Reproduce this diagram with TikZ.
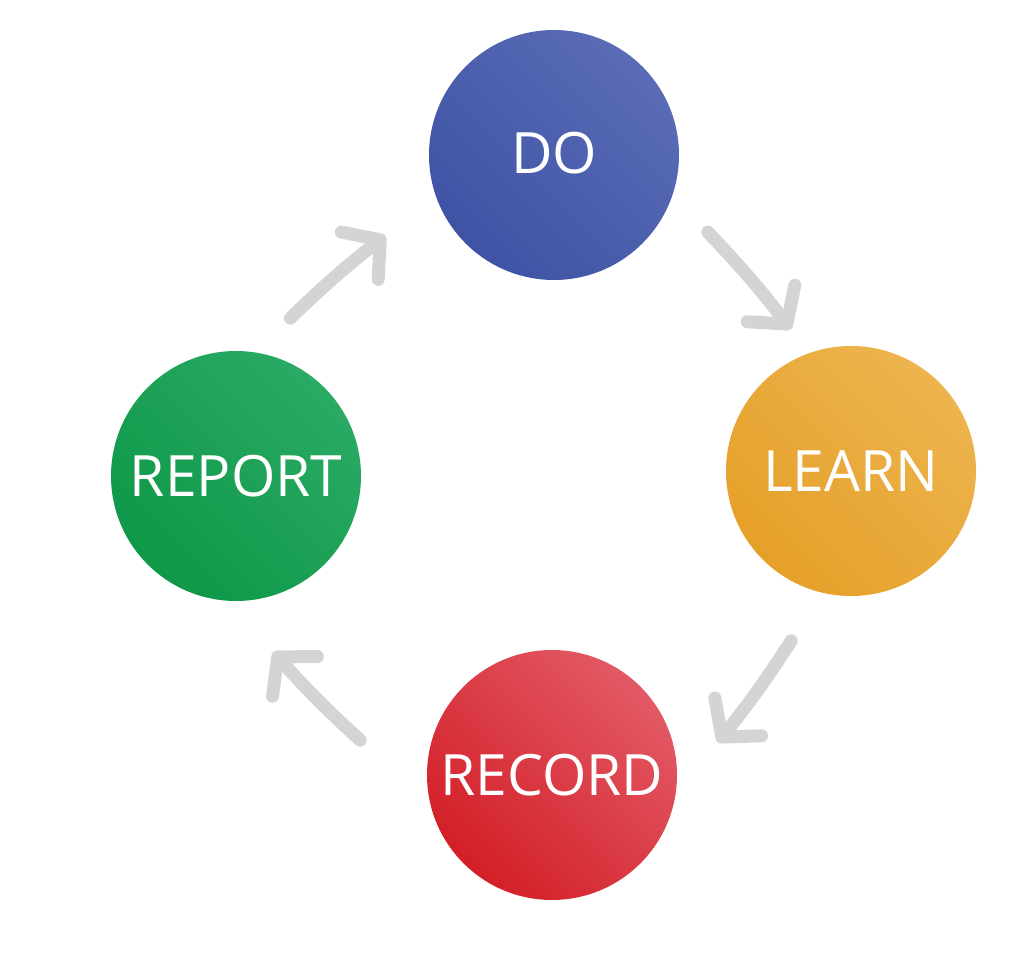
\documentclass[tikz,border=0pt]{standalone}
\usepackage{fontspec}
\setmainfont{Open Sans}
\usetikzlibrary{arrows.meta}
\definecolor{arrowgray}{HTML}{D4D4D4}
\definecolor{blueA}{HTML}{5A6CB6}
\definecolor{blueB}{HTML}{3F53A5}
\definecolor{orangeA}{HTML}{EDB44E}
\definecolor{orangeB}{HTML}{E5A028}
\definecolor{redA}{HTML}{E25965}
\definecolor{redB}{HTML}{D31F27}
\definecolor{greenA}{HTML}{2AAA64}
\definecolor{greenB}{HTML}{0E9848}
\tikzset{
  stagecircle/.style={circle, minimum size=125pt, inner sep=0pt, text=white,
    font=\fontsize{28.5}{30}\selectfont},
  cyc/.style={draw=arrowgray, line width=6.5pt, line cap=round,
    -{Straight Barb[length=13pt,width=30pt,line cap=round,line join=round]}},
}
\begin{document}
\begin{tikzpicture}[x=0.5pt,y=0.5pt]
\useasboundingbox (0,0) rectangle (1024,-963);
\node[stagecircle, top color=blueA, bottom color=blueB, shading angle=-45] (DO) at (554,-155) {\raisebox{2pt}{DO}};
\node[stagecircle, top color=orangeA, bottom color=orangeB, shading angle=-45] (LEARN) at (851,-471) {LEARN};
\node[stagecircle, top color=redA, bottom color=redB, shading angle=-45] (RECORD) at (552,-775) {\raisebox{-1.5pt}{RECORD}};
\node[stagecircle, top color=greenA, bottom color=greenB, shading angle=-45] (REPORT) at (236,-476) {\raisebox{-1pt}{REPORT}};
\draw[cyc] ([shift={(-26.6:86pt)}]DO.center) to[bend left=3] ([shift={(113:77pt)}]LEARN.center);
\draw[cyc] ([shift={(-109.4:90pt)}]LEARN.center) to[bend left=3] ([shift={(11.2:84.5pt)}]RECORD.center);
\draw[cyc] ([shift={(169.7:97.5pt)}]RECORD.center) to[bend left=3] ([shift={(-78:90pt)}]REPORT.center);
\draw[cyc] ([shift={(71:83.5pt)}]REPORT.center) to[bend left=3] ([shift={(-154.4:93.5pt)}]DO.center);
\end{tikzpicture}
\end{document}
